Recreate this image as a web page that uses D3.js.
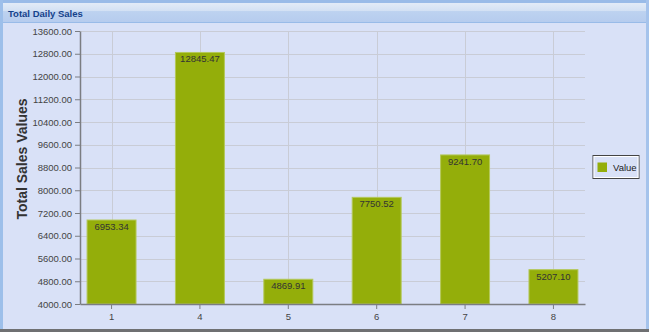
<!DOCTYPE html>
<html>
<head>
<meta charset="utf-8">
<script src="https://cdn.jsdelivr.net/npm/d3@7"></script>
<style>
  body { margin: 0; background: #d9e1f7; }
  svg { display: block; font-family: 'Liberation Sans', Arial, sans-serif; }
</style>
</head>
<body>
<svg id="chart" width="649" height="332"></svg>
<script>
'use strict'

// values
const days = ['1', '4', '5', '6', '7', '8']
const sales = [6953.34, 12845.47, 4869.91, 7750.52, 9241.70, 5207.10]
const yTicks = [4000, 4800, 5600, 6400, 7200, 8000, 8800, 9600, 10400, 11200, 12000, 12800, 13600]
const seriesName = 'Value'
const title = 'Total Daily Sales'
const yTitle = 'Total Sales Values'

const W = 649
const H = 332
const svg = d3.select('#chart')

// panel frame
const defs = svg.append('defs')
const grad = defs.append('linearGradient').attr('id', 'hdr').attr('x1', 0).attr('y1', 0).attr('x2', 0).attr('y2', 1)
grad.append('stop').attr('offset', '0%').attr('stop-color', '#e2ebf7')
grad.append('stop').attr('offset', '40%').attr('stop-color', '#d3e1f4')
grad.append('stop').attr('offset', '45%').attr('stop-color', '#bdd2f0')
grad.append('stop').attr('offset', '100%').attr('stop-color', '#b6ccee')

svg.append('rect').attr('width', W).attr('height', H).attr('fill', '#d9e1f7')
svg.append('rect').attr('x', 0).attr('y', 0).attr('width', W).attr('height', 3).attr('fill', '#99bbe8')
svg.append('rect').attr('x', 0).attr('y', 3).attr('width', W).attr('height', 19).attr('fill', 'url(#hdr)')
svg.append('rect').attr('x', 0).attr('y', 22).attr('width', W).attr('height', 1).attr('fill', '#99bbe8')
svg.append('rect').attr('x', 0).attr('y', 0).attr('width', 3).attr('height', H).attr('fill', '#9dbfea')
svg.append('rect').attr('x', W - 3).attr('y', 0).attr('width', 3).attr('height', H).attr('fill', '#a5c3ec')
svg.append('rect').attr('x', 0).attr('y', H - 3).attr('width', W).attr('height', 3).attr('fill', '#6f7072')

svg.append('text')
  .attr('x', 8).attr('y', 16.5)
  .attr('font-size', 9.5).attr('font-weight', 'bold')
  .attr('fill', '#15428b')
  .text(title)

// plot area
const pLeft = 80
const pRight = 585
const pTop = 31
const pBottom = 304

const x = d3.scaleBand().domain(days).range([pLeft, pRight]).paddingInner(0.446).paddingOuter(0.08)
const y = d3.scaleLinear().domain([4000, 13600]).range([pBottom, pTop])
const cx = d => x(d) + x.bandwidth() / 2

const grid = svg.append('g').attr('stroke', '#c9ccd6').attr('stroke-width', 1)
grid.selectAll('.h').data(yTicks.slice(1)).join('line')
  .attr('x1', pLeft).attr('x2', pRight)
  .attr('y1', d => Math.round(y(d)) + 0.5).attr('y2', d => Math.round(y(d)) + 0.5)
grid.selectAll('.v').data(days).join('line')
  .attr('x1', d => Math.round(cx(d)) + 0.5).attr('x2', d => Math.round(cx(d)) + 0.5)
  .attr('y1', pTop).attr('y2', pBottom)

svg.append('g').selectAll('rect').data(days).join('rect')
  .attr('x', d => x(d))
  .attr('width', x.bandwidth())
  .attr('y', (d, i) => y(sales[i]))
  .attr('height', (d, i) => pBottom - y(sales[i]))
  .attr('fill', '#94ae0a')
  .attr('stroke', '#b4c85a')
  .attr('stroke-width', 1)

svg.append('g').selectAll('text').data(days).join('text')
  .attr('x', d => cx(d))
  .attr('y', (d, i) => y(sales[i]) + 10)
  .attr('text-anchor', 'middle')
  .attr('font-size', 9.5)
  .attr('fill', '#333')
  .text((d, i) => sales[i].toFixed(2))

// axes
const yAxis = svg.append('g')
  .attr('transform', `translate(${pLeft},0)`)
  .call(d3.axisLeft(y).tickValues(yTicks).tickFormat(d3.format('.2f')).tickSize(5).tickSizeOuter(0))
const xAxis = svg.append('g')
  .attr('transform', `translate(0,${pBottom})`)
  .call(d3.axisBottom(x).tickSize(5).tickSizeOuter(0))

for (const ax of [yAxis, xAxis]) {
  ax.select('.domain').attr('stroke', '#7b7d82').attr('stroke-width', 1.5)
  ax.selectAll('.tick line').attr('stroke', '#7b7d82')
  ax.selectAll('.tick text').attr('fill', '#444').attr('font-size', 9.5)
    .attr('font-family', "'Liberation Sans', Arial, sans-serif")
}
yAxis.selectAll('.tick text').attr('x', -8)
xAxis.selectAll('.tick text').attr('y', 9)

svg.append('text')
  .attr('transform', 'translate(27,159) rotate(-90)')
  .attr('text-anchor', 'middle')
  .attr('font-size', 14).attr('font-weight', 'bold')
  .attr('fill', '#333')
  .text(yTitle)

// legend
const lg = svg.append('g').attr('transform', 'translate(593,155.5)')
lg.append('rect').attr('width', 46).attr('height', 23).attr('fill', '#d9e1f7').attr('stroke', '#444')
lg.append('rect').attr('x', 1).attr('y', 1).attr('width', 44).attr('height', 21).attr('fill', 'none').attr('stroke', '#fff')
lg.append('rect').attr('x', 4.5).attr('y', 7).attr('width', 9.5).attr('height', 9.5).attr('fill', '#94ae0a')
lg.append('text').attr('x', 20).attr('y', 15.5).attr('font-size', 9.5).attr('fill', '#222').text(seriesName)
</script>
</body>
</html>
